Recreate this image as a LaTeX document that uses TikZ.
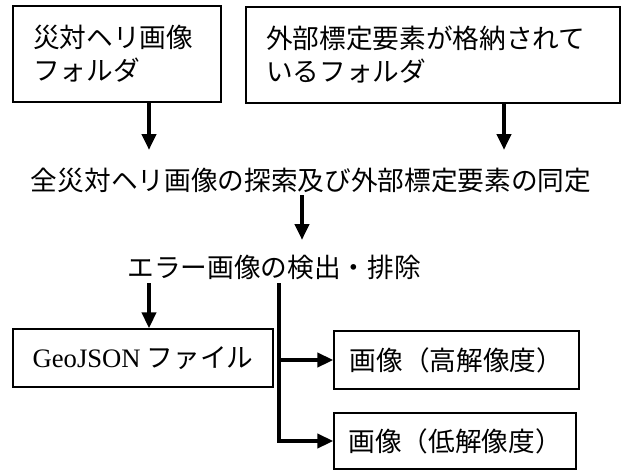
\documentclass[tikz,border=0pt]{standalone}
\usepackage{fontspec}
\setmainfont{Liberation Serif}
\newfontfamily\jp{Noto Sans CJK JP}
\usetikzlibrary{arrows.meta}
\begin{document}
\begin{tikzpicture}[x=0.75pt,y=-0.75pt,
  box/.style={draw, line width=1pt, rectangle, inner sep=0pt},
  lbl/.style={font=\jp\fontsize{20pt}{24.75pt}\selectfont},
  arr/.style={line width=3pt, -{Triangle[length=12pt,width=10.5pt]}},
  ln/.style={line width=3pt}]
\useasboundingbox (0,0) rectangle (624,471);
% top boxes
\node[box, lbl, inner xsep=15pt, text width=126pt, minimum height=72pt, align=left] (b1) at (117,54) {災対ヘリ画像\\フォルダ};
\node[box, lbl, inner xsep=15pt, text width=250.5pt, minimum height=72pt, align=left] (b2) at (433,55) {外部標定要素が格納されて\\いるフォルダ};
% plain texts
\node[lbl, inner sep=0pt] (t1) at (311,180) {全災対ヘリ画像の探索及び外部標定要素の同定};
\node[lbl, inner sep=0pt] (t2) at (274,267) {エラー画像の検出・排除};
% bottom boxes
\node[box, lbl, minimum width=195pt, minimum height=43.5pt] (g) at (143,358) {{\rmfamily GeoJSON} ファイル};
\node[box, lbl, minimum width=183.75pt, minimum height=43.5pt] (hi) at (456.5,360) {画像（高解像度）};
\node[box, lbl, minimum width=181.5pt, minimum height=42pt] (lo) at (455,441) {画像（低解像度）};
% connectors
\coordinate (e1) at (149,150);
\coordinate (e2) at (504,150);
\coordinate (s3) at (302,195);
\coordinate (e3) at (302,240);
\coordinate (s4) at (149,283);
\coordinate (s5) at (279,283);
\draw[arr] (b1.south -| e1) -- (e1);
\draw[arr] (b2.south -| e2) -- (e2);
\draw[arr] (s3) -- (e3);
\draw[arr] (s4) -- (g.north -| s4);
\draw[arr] (s5) |- (lo.west);
\draw[arr] (s5 |- hi.west) -- (hi.west);
\end{tikzpicture}
\end{document}
